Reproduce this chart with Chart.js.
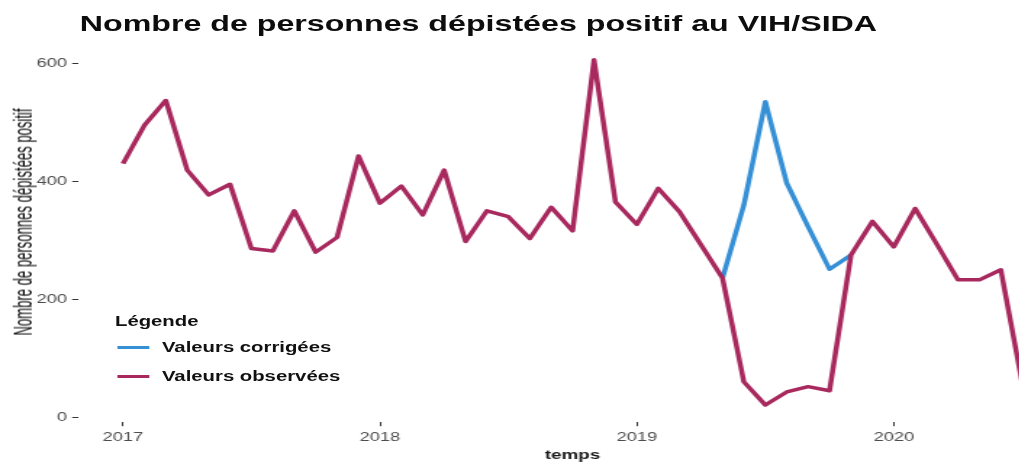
<!DOCTYPE html>
<html lang="fr">
<head>
<meta charset="utf-8">
<title>Nombre de personnes dépistées positif au VIH/SIDA</title>
<script src="https://cdn.jsdelivr.net/npm/chart.js@4.4.1/dist/chart.umd.min.js"></script>
<style>
  html, body { margin: 0; padding: 0; background: #fff; overflow: hidden; }
  body { width: 1019px; height: 465px; position: relative; }
  /* the whole figure is drawn narrow, then stretched like the reference */
  #wrap { position: absolute; left: 0; top: 0; width: 736px; height: 465px;
          transform: scaleX(1.45); transform-origin: 0 0;
          font-family: "Liberation Sans", Arial, sans-serif; color: #1a1a1a; }
  canvas { position: absolute; left: 0; top: 0; }
  .txt { position: absolute; white-space: nowrap; }
  #titre { left: 55.2px; top: 11px; font-size: 22.3px; font-weight: bold; line-height: 26px; color: #0d0d0d; transform-origin: 0 50%; }
  #ytitre { left: 15.9px; top: 221.5px; font-size: 18px; line-height: 20px; color: #111; }
  .leg { font-size: 14px; font-weight: bold; line-height: 16px; color: #111; }
  .cle { position: absolute; height: 3px; width: 21.4px; left: 81.4px; }
</style>
</head>
<body>
<div id="wrap">
  <canvas id="graph" width="736" height="465"></canvas>
  <div class="txt" id="titre">Nombre de personnes dépistées positif au VIH/SIDA</div>
  <div class="txt" id="ytitre">Nombre de personnes dépistées positif</div>
  <div class="txt leg" style="left:79.3px; top:313px;">Légende</div>
  <div class="cle" id="cle1" style="top:345.5px;"></div>
  <div class="txt leg" style="left:111.7px; top:339px;">Valeurs corrigées</div>
  <div class="cle" id="cle2" style="top:374.5px;"></div>
  <div class="txt leg" style="left:111.7px; top:368px;">Valeurs observées</div>
</div>
<script>
// données mensuelles
const mois = [
  '2017-01','2017-02','2017-03','2017-04','2017-05','2017-06','2017-07','2017-08','2017-09','2017-10','2017-11','2017-12',
  '2018-01','2018-02','2018-03','2018-04','2018-05','2018-06','2018-07','2018-08','2018-09','2018-10','2018-11','2018-12',
  '2019-01','2019-02','2019-03','2019-04','2019-05','2019-06','2019-07','2019-08','2019-09','2019-10','2019-11','2019-12',
  '2020-01','2020-02','2020-03','2020-04','2020-05','2020-06','2020-07'
];
const observees = [
  430, 495, 537, 419, 377, 395, 286, 282, 350, 280, 305, 443,
  363, 392, 343, 419, 298, 350, 340, 303, 356, 316, 606, 365,
  327, 388, 348, 292, 236, 60, 21, 43, 52, 45, 275, 332,
  289, 354, 294, 233, 233, 250, 58
];
const moisCorriges = ['2019-05','2019-06','2019-07','2019-08','2019-09','2019-10','2019-11'];
const corrigees = [236, 360, 535, 397, 323, 251, 275];

const annees = ['2017', '2018', '2019', '2020'];
const yTicks = [0, 200, 400, 600];

const couleurObs = '#a8295e';
const couleurCorr = '#3690d6';

// mois -> nombre de mois depuis janvier 2017
function rang(m) {
  const [a, b] = m.split('-').map(Number);
  return (a - 2017) * 12 + b - 1;
}

document.getElementById('cle1').style.background = couleurCorr;
document.getElementById('cle2').style.background = couleurObs;

// fit titles to the reference lengths
const titre = document.getElementById('titre');
titre.style.transform = `scaleX(${550.3 / titre.offsetWidth})`;
const yt = document.getElementById('ytitre');
yt.style.transform = `translate(-50%,-50%) rotate(-90deg) scaleX(${227 / yt.offsetWidth})`;

new Chart(document.getElementById('graph'), {
  type: 'line',
  data: {
    datasets: [
      {
        label: 'Valeurs observées',
        data: mois.map((m, i) => ({ x: rang(m), y: observees[i] })),
        borderColor: couleurObs,
        borderWidth: 3.5,
        borderJoinStyle: 'round',
        pointRadius: 0,
        tension: 0
      },
      {
        label: 'Valeurs corrigées',
        data: moisCorriges.map((m, i) => ({ x: rang(m), y: corrigees[i] })),
        borderColor: couleurCorr,
        borderWidth: 3.5,
        borderJoinStyle: 'round',
        pointRadius: 0,
        tension: 0
      }
    ]
  },
  options: {
    responsive: false,
    animation: false,
    events: [],
    layout: { padding: { top: 42.5, right: 0, bottom: 0, left: 0 } },
    plugins: { legend: { display: false }, tooltip: { enabled: false } },
    scales: {
      x: {
        type: 'linear',
        min: -2.1,
        max: 44.1,
        border: { display: false },
        grid: { drawOnChartArea: false, tickLength: 4, tickColor: '#333' },
        afterBuildTicks: s => { s.ticks = annees.map(a => ({ value: (Number(a) - 2017) * 12 })); },
        afterFit: s => { s.height = 42.8; },
        ticks: {
          callback: v => annees[v / 12],
          color: '#4d4d4d',
          font: { family: 'Liberation Sans', size: 12.6 },
          padding: 4,
          maxRotation: 0,
          autoSkip: false
        },
        title: {
          display: true,
          text: 'temps',
          color: '#1a1a1a',
          font: { family: 'Liberation Sans', size: 13, weight: 'bold' },
          padding: { top: 0, bottom: 2.2 }
        }
      },
      y: {
        min: -8.25,
        max: 635.25,
        border: { display: false },
        grid: { drawOnChartArea: false, tickLength: 4, tickColor: '#333' },
        afterBuildTicks: s => { s.ticks = yTicks.map(v => ({ value: v })); },
        afterFit: s => { s.width = 53.8; },
        ticks: {
          color: '#4d4d4d',
          font: { family: 'Liberation Sans', size: 12.6 },
          padding: 3.5
        }
      }
    }
  }
});
</script>
</body>
</html>
